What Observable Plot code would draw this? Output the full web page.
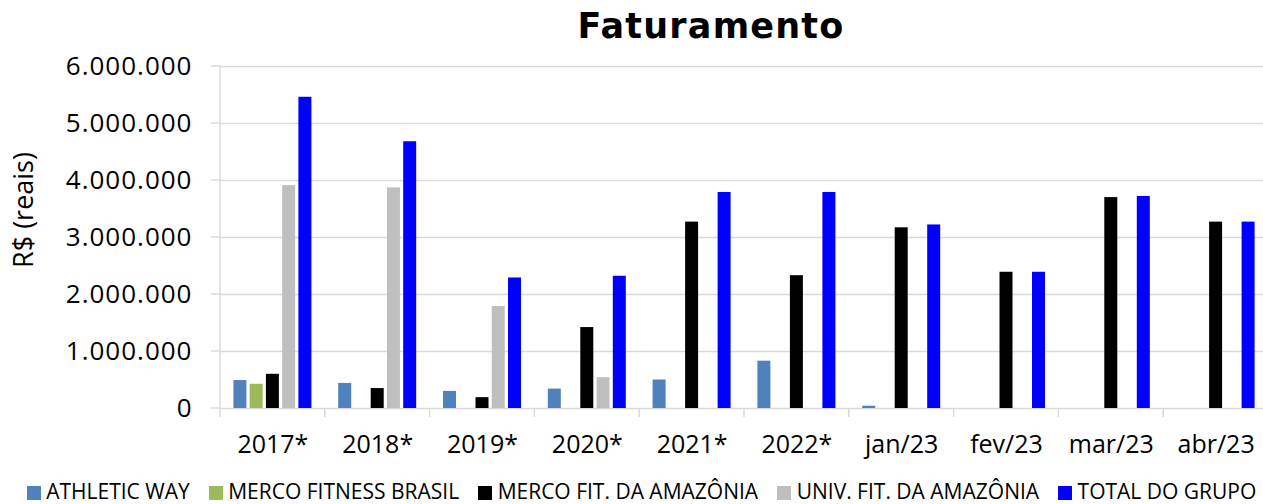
<!DOCTYPE html>
<html>
<head>
<meta charset="utf-8">
<script src="https://cdn.jsdelivr.net/npm/d3@7"></script>
<script src="https://cdn.jsdelivr.net/npm/@observablehq/plot@0.6"></script>
<style>
  html, body { margin: 0; padding: 0; background: #fff; overflow: hidden; }
  #wrap { width: 1263px; height: 504px; position: relative; }
  #title {
    box-sizing: border-box; height: 52px; padding-top: 1px; padding-left: 159px;
    text-align: center; line-height: 50px;
    font-family: "DejaVu Sans", sans-serif; font-weight: bold; font-size: 35px; letter-spacing: 1.2px;
    color: #000;
  }
  #legend {
    box-sizing: border-box; height: 34px; padding-top: 9px; padding-left: 20px;
    display: flex; justify-content: center; align-items: center;
    font-family: "Open Sans", sans-serif; font-size: 21px; line-height: 21px; color: #000;
    white-space: nowrap;
  }
  .item { display: flex; align-items: center; margin: 0 9.5px; }
  .sw { width: 14px; height: 14px; margin-right: 5.5px; margin-top: 2px; }
  svg { overflow: visible; }
</style>
</head>
<body>
<div id="wrap">
  <div id="title">Faturamento</div>
  <div id="chart"></div>
  <div id="legend"></div>
</div>
<script>
const categories = ["2017*", "2018*", "2019*", "2020*", "2021*", "2022*", "jan/23", "fev/23", "mar/23", "abr/23"];
const series = ["ATHLETIC WAY", "MERCO FITNESS BRASIL", "MERCO FIT. DA AMAZÔNIA", "UNIV. FIT. DA AMAZÔNIA", "TOTAL DO GRUPO"];
const seriesColors = ["#4f81bd", "#9bbb59", "#000000", "#bfbfbf", "#0000ff"];

const athleticWay        = [490000, 440000, 300000, 340000, 500000, 830000, 40000, null, null, null];
const mercoFitnessBrasil = [425000, null, null, null, null, null, null, null, null, null];
const mercoFitAmazonia   = [600000, 350000, 190000, 1420000, 3270000, 2330000, 3170000, 2390000, 3700000, 3270000];
const univFitAmazonia    = [3910000, 3870000, 1790000, 540000, null, null, null, null, null, null];
const totalGrupo         = [5460000, 4680000, 2290000, 2320000, 3790000, 3790000, 3220000, 2390000, 3720000, 3270000];

const yTicks = [0, 1000000, 2000000, 3000000, 4000000, 5000000, 6000000];
const yLabel = "R$ (reais)";

const seriesValues = [athleticWay, mercoFitnessBrasil, mercoFitAmazonia, univFitAmazonia, totalGrupo];
const rows = [];
categories.forEach((c, i) => {
  series.forEach((s, j) => {
    const v = seriesValues[j][i];
    if (v != null) rows.push({category: c, series: s, value: v});
  });
});

const fmt = d3.formatLocale({decimal: ",", thousands: ".", grouping: [3], currency: ["R$", ""]}).format(",.0f");
const gridColor = "#d9d9d9";

const chart = Plot.plot({
  width: 1263,
  height: 418,
  marginTop: 14,
  marginBottom: 62,
  marginLeft: 220,
  marginRight: -5,
  style: {fontFamily: "'Open Sans', sans-serif", fontSize: "25px", color: "#000", background: "transparent", overflow: "visible"},
  facet: {data: rows, x: "category"},
  fx: {domain: categories, padding: 0, round: false, label: null, axis: "bottom", tickSize: 0, tickPadding: 27},
  x: {domain: series, paddingInner: 0.2, paddingOuter: 0.825, round: false, axis: null},
  y: {domain: [0, 6000000], ticks: 6, tickFormat: fmt, tickSize: 0, tickPadding: 28, label: null},
  color: {domain: series, range: seriesColors},
  marks: [
    Plot.ruleY(yTicks, {stroke: gridColor, strokeWidth: 1.4}),
    Plot.barY(rows, {x: "series", y: "value", fill: "series"})
  ]
});
document.getElementById("chart").appendChild(chart);

const svg = d3.select(chart);
svg.selectAll('[aria-label^="y-axis"] text').attr("font-size", 26).style("letter-spacing", "1px");

// axis line and boundary ticks, from the library's scales
const fx = chart.scale("fx");
const y = chart.scale("y");
const x0 = fx.apply(categories[0]);
const y0 = y.apply(0);
const g = svg.append("g").attr("stroke", gridColor).attr("stroke-width", 1.4);
g.append("line").attr("x1", x0).attr("x2", x0).attr("y1", y.apply(6000000)).attr("y2", y0 + 9);
yTicks.forEach(v => {
  g.append("line").attr("x1", x0 - 9).attr("x2", x0).attr("y1", y.apply(v)).attr("y2", y.apply(v));
});
categories.forEach(c => {
  const bx = fx.apply(c) + fx.step;
  g.append("line").attr("x1", bx).attr("x2", bx).attr("y1", y0).attr("y2", y0 + 9);
});
svg.append("text")
  .attr("transform", `translate(33, ${(y.apply(6000000) + y0) / 2 - 27}) rotate(-90)`)
  .attr("text-anchor", "middle")
  .attr("font-size", 27)
  .attr("fill", "#000")
  .text(yLabel);

// legend
const legend = document.getElementById("legend");
series.forEach((s, j) => {
  const it = document.createElement("div");
  it.className = "item";
  const sw = document.createElement("span");
  sw.className = "sw";
  sw.style.background = seriesColors[j];
  const t = document.createElement("span");
  t.textContent = s;
  it.appendChild(sw);
  it.appendChild(t);
  legend.appendChild(it);
});
</script>
</body>
</html>
